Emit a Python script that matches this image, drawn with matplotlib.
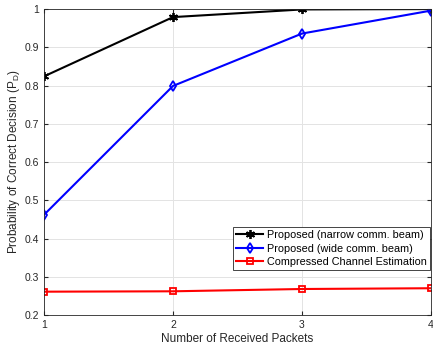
import matplotlib
matplotlib.use("Agg")
import matplotlib.pyplot as plt

plt.rcParams['font.family'] = ['Liberation Sans', 'DejaVu Sans']

packets = [1, 2, 3, 4]
pd_narrow = [0.824, 0.979, 0.999, 1.0]
pd_wide = [0.462, 0.799, 0.936, 0.996]
pd_cce = [0.261, 0.262, 0.268, 0.270]

fig = plt.figure(figsize=(4.33, 3.49), dpi=100)
ax = fig.add_axes([0.1016, 0.0974, 0.8938, 0.8766])

ax.plot(packets, pd_narrow, color="black", lw=1.5, marker=(6, 2, 0), ms=6.5, mew=1.3,
        label="Proposed (narrow comm. beam)")
ax.plot(packets, pd_wide, color="#0000ff", lw=1.5, marker="d", ms=5.5, mfc="none", mew=1.3,
        label="Proposed (wide comm. beam)")
ax.plot(packets, pd_cce, color="#ff0000", lw=1.5, marker="s", ms=4.5, mfc="none", mew=1.3,
        label="Compressed Channel Estimation")

ax.set_xlim(1, 4)
ax.set_ylim(0.2, 1)
ax.set_xticks([1, 2, 3, 4])
ax.set_yticks([0.2, 0.3, 0.4, 0.5, 0.6, 0.7, 0.8, 0.9, 1.0])
ax.set_yticklabels(["0.2", "0.3", "0.4", "0.5", "0.6", "0.7", "0.8", "0.9", "1"])
ax.grid(True, color="#e3e3e3", lw=0.7)
ax.set_axisbelow(True)
ax.tick_params(direction="in", length=3, labelsize=7.5, colors="#262626", top=True, right=True,
               labeltop=False, labelright=False)
for s in ax.spines.values():
    s.set_color("#262626")
    s.set_linewidth(0.6)
ax.set_xlabel("Number of Received Packets", fontsize=8.5, color="#262626", labelpad=2)
ax.set_ylabel("Probability of Correct Decision (P$_\\mathregular{D}$)", fontsize=8.5,
              color="#262626", labelpad=2)

leg = ax.legend(loc="lower right", bbox_to_anchor=(0.997, 0.147), fontsize=7.8,
                frameon=True, fancybox=False, edgecolor="#262626", framealpha=1,
                handlelength=2.5, handletextpad=0.3, labelspacing=0.3, borderpad=0.3,
                borderaxespad=0)
leg.get_frame().set_linewidth(0.6)

fig.savefig("out.png", dpi=100)
